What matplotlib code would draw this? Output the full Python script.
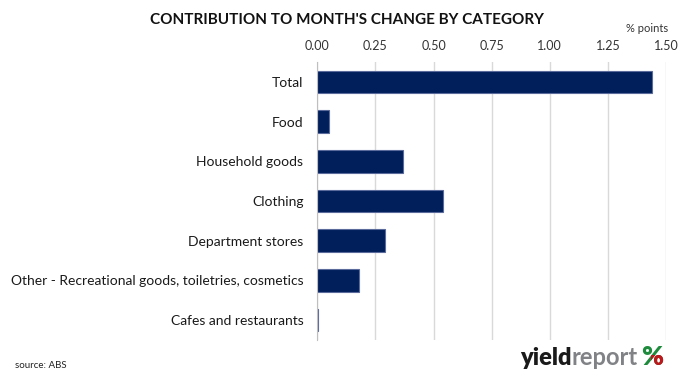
import matplotlib
matplotlib.use("Agg")
import matplotlib.pyplot as plt
from matplotlib.patches import Rectangle

categories = ["Total", "Food", "Household goods", "Clothing", "Department stores",
              "Other - Recreational goods, toiletries, cosmetics", "Cafes and restaurants"]
values = [1.44, 0.05, 0.37, 0.54, 0.29, 0.18, 0.004]
xticks = [0.00, 0.25, 0.50, 0.75, 1.00, 1.25, 1.50]
xtick_labels = ["0.00", "0.25", "0.50", "0.75", "1.00", "1.25", "1.50"]

plt.rcParams['font.family'] = ['Lato', 'DejaVu Sans']

fig = plt.figure(figsize=(6.9, 3.78), dpi=100)
ax = fig.add_axes([317.3/690, 1-340/378, (666-317.3)/690, (340-62)/378])

y = list(range(len(categories)))
ax.barh(y, values, height=0.57, color="#001F5B", edgecolor="#5a6a9a", linewidth=0.8, zorder=3)
ax.set_ylim(len(categories)-0.5, -0.5)
ax.set_xlim(0, 1.5)
ax.set_yticks(y)
ax.set_yticklabels(categories, fontsize=10, color="#1a1a1a")
ax.set_xticks(xticks)
ax.set_xticklabels(xtick_labels, fontsize=9, color="#333333")
ax.xaxis.tick_top()
ax.tick_params(axis='x', length=0, pad=7)
ax.tick_params(axis='y', length=0, pad=10)
ax.grid(axis='x', color="#d9d9d9", linewidth=1.0, zorder=0)
for s in ['top', 'right', 'bottom']:
    ax.spines[s].set_visible(False)
ax.spines['left'].set_color("#bfbfbf")
ax.spines['left'].set_zorder(4)

fig.text(347/690, 1-20/378, "CONTRIBUTION TO MONTH'S CHANGE BY CATEGORY", ha='center', va='center',
         fontsize=11, fontweight='bold', color="#111111")
fig.text(647/690, 1-28/378, "% points", ha='center', va='center', fontsize=8, color="#333333")
fig.text(15/690, 1-366/378, "source: ABS", ha='left', va='center', fontsize=7, color="#222222")

# logo
base = 1-365/378
t1 = fig.text(520/690, base, "yield", ha='left', va='baseline', fontsize=17, fontweight='heavy', color="#1a1a1a")
fig.canvas.draw()
r = fig.canvas.get_renderer()
bb = t1.get_window_extent(r)
t2 = fig.text(bb.x1/690, base, "report", ha='left', va='baseline', fontsize=17, fontweight='bold', color="#808285")
bb2 = t2.get_window_extent(r)
px = bb2.x1 + 4
pg = fig.text(px/690, base, "%", ha='left', va='baseline', fontsize=19, fontweight='heavy', color="#1e8a3c")
pr = fig.text(px/690, base, "%", ha='left', va='baseline', fontsize=19, fontweight='heavy', color="#c0161c")
fig.canvas.draw()
bb3 = pg.get_window_extent(r)
cx0 = (bb3.x0 + bb3.width*0.42) / 690
cy0 = base - 5/378
clip = Rectangle((cx0, cy0), 30/690, 15/378, transform=fig.transFigure)
pr.set_clip_path(clip)

fig.savefig("out.png", dpi=100, facecolor="white")
